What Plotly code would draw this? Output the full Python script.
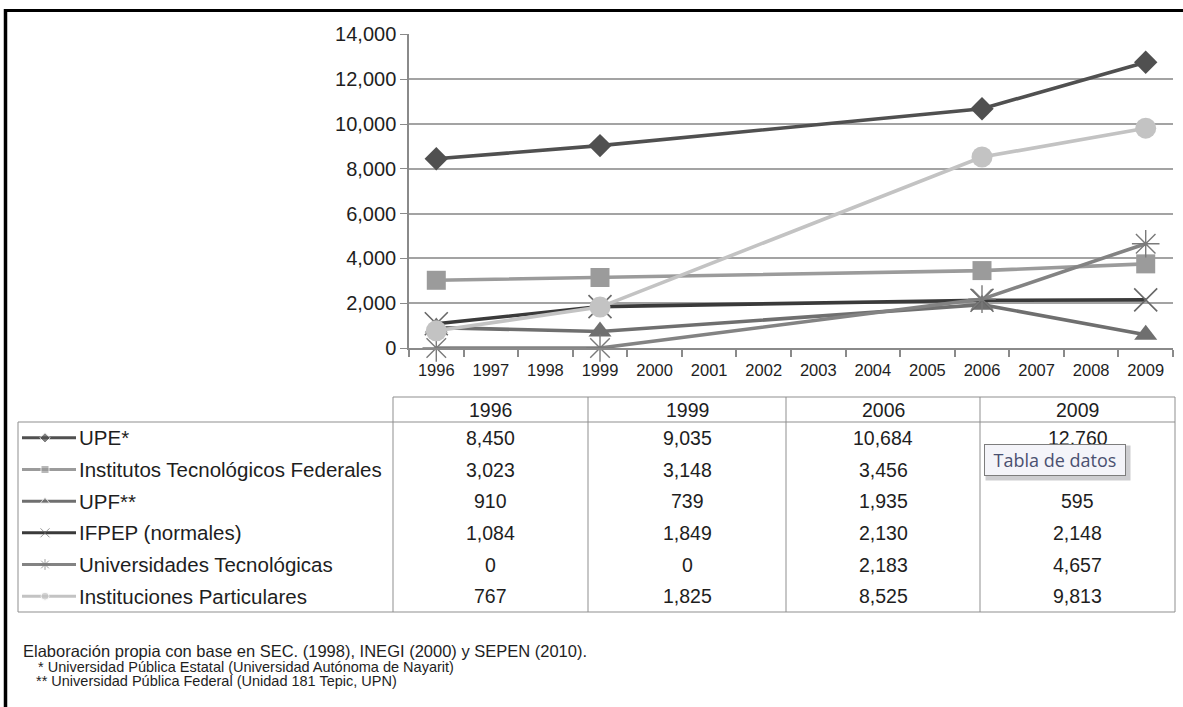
import plotly.graph_objects as go

# ---------------- data ----------------
years = [1996, 1999, 2006, 2009]
axis_years = list(range(1996, 2010))
y_ticks = [0, 2000, 4000, 6000, 8000, 10000, 12000, 14000]

series_names = [
    "UPE*",
    "Institutos Tecnológicos Federales",
    "UPF**",
    "IFPEP (normales)",
    "Universidades Tecnológicas",
    "Instituciones Particulares",
]
upe = [8450, 9035, 10684, 12760]
itf = [3023, 3148, 3456, 3756]
upf = [910, 739, 1935, 595]
ifpep = [1084, 1849, 2130, 2148]
ut = [0, 0, 2183, 4657]
ipart = [767, 1825, 8525, 9813]
series_values = [upe, itf, upf, ifpep, ut, ipart]

footnotes = [
    "Elaboración propia con base en SEC. (1998), INEGI (2000) y SEPEN (2010).",
    "* Universidad Pública Estatal (Universidad Autónoma de Nayarit)",
    "** Universidad Pública Federal (Unidad 181 Tepic, UPN)",
]
tooltip_text = "Tabla de datos"

# ---------------- styles ----------------
W, H = 1183, 707
FONT = "Liberation Sans, Arial, sans-serif"
TXT = "#1e1e1e"
GRID = "#a3a3a3"

styles = [
    dict(color="#505050", symbol="diamond", size=18, lw=None),
    dict(color="#9b9b9b", symbol="square", size=19, lw=None),
    dict(color="#6f6f6f", symbol="triangle-up", size=20, lw=None),
    dict(color="#3a3a3a", symbol="x-thin", size=23, lw=1.6, mcolor="#686868"),
    dict(color="#838383", symbol="asterisk", size=23, lw=1.4, mcolor="#7a7a7a"),
    dict(color="#c3c3c3", symbol="circle", size=21, lw=None),
]
legend_sizes = [8, 8, 8, 9, 9, 8]

# plot area in pixels
PX_L, PX_R, PX_T, PX_B = 409, 1173, 34.4, 348

fig = go.Figure()

for name, vals, st in zip(series_names, series_values, styles):
    marker = dict(symbol=st["symbol"], size=st["size"], color=st["color"])
    if st["lw"]:
        marker["line"] = dict(width=st["lw"], color=st["mcolor"])
    fig.add_trace(go.Scatter(
        x=years, y=vals, name=name, mode="lines+markers",
        line=dict(color=st["color"], width=3.6),
        marker=marker, cliponaxis=False, showlegend=False,
        xaxis="x", yaxis="y",
    ))

# ---------------- data table (drawn in pixel overlay axes) ----------------
col_edges = [393, 588, 786, 980, 1175]
head_top, head_bot, tab_bot, tab_left = 397, 422, 612, 18
row_h = (tab_bot - head_bot) / len(series_names)
line_c = "#8f8f8f"

shapes = []
def pline(x0, y0, x1, y1, color=line_c, width=1):
    shapes.append(dict(type="line", xref="x2", yref="y2", x0=x0, y0=y0,
                       x1=x1, y1=y1, line=dict(color=color, width=width)))

pline(col_edges[0], head_top, col_edges[-1], head_top)
pline(tab_left, head_bot, col_edges[-1], head_bot)
pline(tab_left, tab_bot, col_edges[-1], tab_bot)
pline(tab_left, head_bot, tab_left, tab_bot)
for cx in col_edges:
    pline(cx, head_top, cx, tab_bot)

annotations = []
def ptext(x, y, text, size=19.5, xanchor="center", color=TXT, family=FONT, **kw):
    d = dict(xref="x2", yref="y2", x=x, y=y, text=text,
             showarrow=False, xanchor=xanchor, yanchor="middle",
             font=dict(family=family, size=size, color=color))
    d.update(kw)
    annotations.append(d)

col_centers = [(a + b) / 2 for a, b in zip(col_edges[:-1], col_edges[1:])]
for cx, yr in zip(col_centers, years):
    ptext(cx, (head_top + head_bot) / 2, str(yr))

for i, (name, vals, st) in enumerate(zip(series_names, series_values, styles)):
    cy = head_bot + row_h * (i + 0.5)
    ptext(77, cy, name, size=20.5, xanchor="left")
    for cx, v in zip(col_centers, vals):
        ptext(cx, cy, f"{v:,}")
    marker = dict(symbol=st["symbol"], size=[0, legend_sizes[i], 0], color=st["color"])
    if st["lw"]:
        marker["line"] = dict(width=1, color=st["mcolor"])
    fig.add_trace(go.Scatter(
        x=[22, 45, 76], y=[cy, cy, cy], mode="lines+markers",
        line=dict(color=st["color"], width=3), marker=marker,
        xaxis="x2", yaxis="y2", showlegend=False, cliponaxis=False,
        hoverinfo="skip",
    ))

# footnotes
foot_x = [21, 36, 34]
foot_y = [651, 667, 681]
foot_sz = [16.5, 14.5, 14.5]
for t, x, y, s in zip(footnotes, foot_x, foot_y, foot_sz):
    ptext(x, y, t, size=s, xanchor="left")

# tooltip (shadow + box drawn as annotations so it sits above the table text)
ptext(1058, 463, "", size=18, width=142, height=32, bgcolor="#cdcdd0")
ptext(1055, 460, tooltip_text, size=18, color="#4a5070",
      family="Open Sans, DejaVu Sans, sans-serif",
      width=140, height=30, bgcolor="#f4f4f9", bordercolor="#7d7d7d",
      borderwidth=1, borderpad=0)

# black frame
shapes.append(dict(type="line", xref="x2", yref="y2", x0=5.5, y0=9, x1=5.5, y1=H,
                   line=dict(color="#000", width=3.5)))
shapes.append(dict(type="line", xref="x2", yref="y2", x0=4, y0=10.5, x1=W, y1=10.5,
                   line=dict(color="#000", width=3)))

fig.update_layout(
    width=W, height=H,
    margin=dict(l=0, r=0, t=0, b=0, autoexpand=False),
    paper_bgcolor="white", plot_bgcolor="rgba(0,0,0,0)",
    font=dict(family=FONT, color=TXT),
    xaxis=dict(
        domain=[PX_L / W, PX_R / W], range=[1995.5, 2009.5],
        tickmode="array", tickvals=axis_years, ticktext=[str(y) for y in axis_years],
        ticks="", showgrid=False, zeroline=False, automargin=False,
        ticklabelstandoff=6,
        showline=True, linecolor="#8a8a8a", linewidth=1.5,
        tickfont=dict(size=16.5, family=FONT, color=TXT),
        minor=dict(tickmode="linear", tick0=1995.5, dtick=1, ticks="outside",
                   ticklen=7, tickcolor="#8a8a8a", tickwidth=1.5, showgrid=False),
        fixedrange=True,
    ),
    yaxis=dict(
        domain=[1 - PX_B / H, 1 - PX_T / H], range=[0, 14000],
        tickmode="array", tickvals=y_ticks, tickformat=",",
        ticks="outside", ticklen=7, tickcolor="#8a8a8a",
        showgrid=True, gridcolor=GRID, gridwidth=1.5, zeroline=False, automargin=False,
        showline=True, linecolor="#8a8a8a", linewidth=1.5,
        tickfont=dict(size=20, family=FONT, color=TXT),
        fixedrange=True,
    ),
    xaxis2=dict(domain=[0, 1], range=[0, W], visible=False, anchor="y2",
                fixedrange=True, automargin=False),
    yaxis2=dict(domain=[0, 1], range=[H, 0], visible=False, anchor="x2",
                fixedrange=True, automargin=False),
    shapes=shapes,
    annotations=annotations,
)

fig.write_html(
    "out.html",
    config={"displayModeBar": False},
    post_script="document.body.style.margin='0';document.body.style.padding='0';"
                "document.body.style.overflow='hidden';",
)
